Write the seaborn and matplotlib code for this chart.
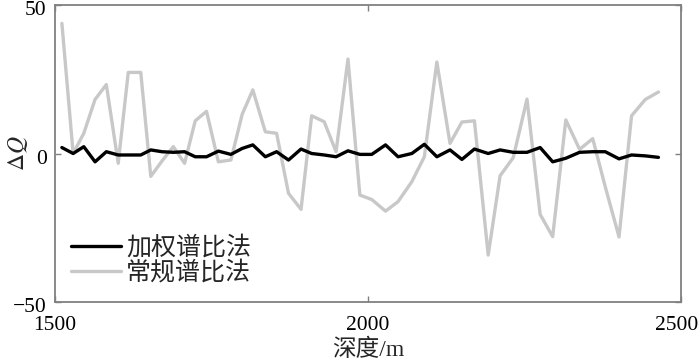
import numpy as np
import pandas as pd
import matplotlib
matplotlib.use("Agg")
import matplotlib.pyplot as plt
from matplotlib.lines import Line2D
from matplotlib.transforms import ScaledTranslation
import seaborn as sns

# ---- data ----
depth = [1511, 1529, 1546, 1564, 1582, 1601, 1617, 1637, 1653, 1671,
         1689, 1707, 1724, 1742, 1761, 1781, 1799, 1816, 1836, 1854,
         1873, 1893, 1910, 1930, 1949, 1968, 1987, 2006, 2028, 2048,
         2070, 2090, 2110, 2131, 2150, 2170, 2192, 2211, 2232, 2254,
         2275, 2295, 2316, 2338, 2359, 2379, 2401, 2421, 2443, 2464]

weighted = [2.0, 0.0, 2.3, -2.8, 0.6, -0.5, -0.5, -0.5, 1.2, 0.6,
            0.4, 0.6, -1.1, -1.1, 0.8, -0.3, 1.7, 2.9, -1.1, 0.6,
            -2.2, 1.5, 0.0, -0.5, -1.1, 0.9, -0.3, -0.3, 2.9, -1.1,
            0.0, 3.1, -1.1, 1.2, -2.0, 1.5, 0.0, 1.2, 0.4, 0.4,
            2.0, -2.8, -1.6, 0.4, 0.6, 0.6, -1.8, -0.5, -0.8, -1.3]

conventional = [43.8, 0.0, 6.8, 18.2, 23.2, -3.3, 27.3, 27.3, -7.7, -2.5,
                2.3, -3.3, 11.0, 14.2, -2.8, -2.2, 13.2, 21.4, 7.3, 6.8,
                -13.4, -18.8, 12.7, 10.7, 0.6, 31.8, -14.0, -15.5, -19.4, -16.2,
                -9.5, -1.1, 30.8, 3.4, 10.6, 11.0, -34.2, -7.5, -1.4, 18.3,
                -20.5, -28.0, 11.3, 1.4, 5.0, -11.2, -28.1, 12.7, 18.2, 20.7]

series_names = ["加权谱比法", "常规谱比法"]
x_ticks = [1500, 2000, 2500]
y_ticks = [-50, 0, 50]
y_tick_labels = ["\u221250", "0", "50"]

df = pd.DataFrame({
    "depth": depth * 2,
    "dq": weighted + conventional,
    "method": [series_names[0]] * len(depth) + [series_names[1]] * len(depth),
})

sns.set_theme(style="white")
plt.rcParams["font.family"] = ["Liberation Serif", "Noto Sans CJK SC", "DejaVu Sans"]
plt.rcParams["mathtext.fontset"] = "stix"
plt.rcParams["axes.unicode_minus"] = True

fig = plt.figure(figsize=(7.0, 3.64), dpi=100)
ax = fig.add_axes([55 / 700, 1 - 302 / 364, 626 / 700, 297 / 364])

palette = {series_names[0]: "#000000", series_names[1]: "#c8c8c8"}
sns.lineplot(data=df, x="depth", y="dq", hue="method", hue_order=series_names[::-1],
             palette=palette, sort=False, linewidth=2.4, ax=ax, legend=False)

ax.set_xlim(1500, 2500)
ax.set_ylim(-50, 50)
ax.set_xticks(x_ticks)
ax.set_yticks(y_ticks)
ax.set_xticklabels([str(t) for t in x_ticks], fontsize=15.5)
ax.set_yticklabels(y_tick_labels, fontsize=15.5)

ax.tick_params(direction="in", length=4, width=1, color="#808080",
               top=True, right=True, bottom=True, left=True,
               labelcolor="black")
ax.tick_params(axis="x", pad=10)
ax.tick_params(axis="y", pad=6)
for s in ax.spines.values():
    s.set_visible(True)
    s.set_color("#808080")
    s.set_linewidth(1.3)

# small offsets so the edge labels stay inside the figure
last = ax.get_xticklabels()[-1]
last.set_transform(last.get_transform() + ScaledTranslation(-0.04, 0, fig.dpi_scale_trans))
for lbl in ax.get_yticklabels():
    lbl.set_transform(lbl.get_transform() + ScaledTranslation(0, -0.03, fig.dpi_scale_trans))

ax.set_xlabel("深度/m", fontsize=17, labelpad=3)
ax.set_ylabel(r"$\Delta \mathit{Q}$", fontsize=17)
ax.yaxis.set_label_coords(-0.04, 0.5)

handles = [Line2D([], [], color="#000000", lw=2.4),
           Line2D([], [], color="#c8c8c8", lw=2.4)]
leg = ax.legend(handles, series_names, loc="lower left", frameon=False,
                prop={"family": ["Noto Sans CJK SC", "DejaVu Sans"], "size": 18},
                handlelength=2.0, handletextpad=0.2, labelspacing=-0.05,
                borderaxespad=0.4, borderpad=0.25, bbox_to_anchor=(0.0, 0.0))

fig.savefig("out.png", dpi=100)
